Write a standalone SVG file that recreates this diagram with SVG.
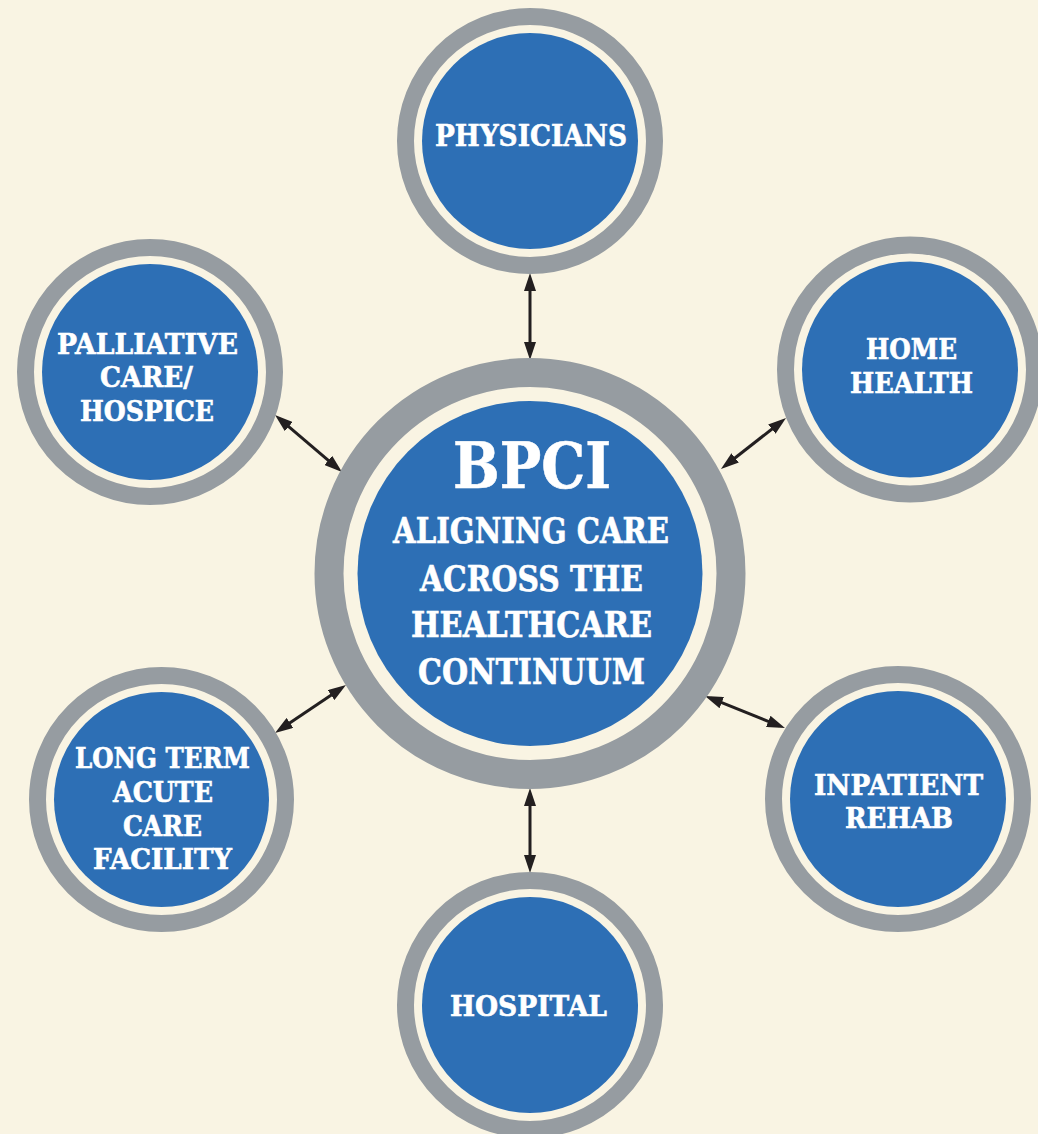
<svg xmlns="http://www.w3.org/2000/svg" width="1038" height="1134" viewBox="0 0 1038 1134">
  <style>
    .ring { fill: none; stroke: #969ca1; stroke-width: 17; }
    .ring-big { fill: none; stroke: #969ca1; stroke-width: 29; }
    .core { fill: #2d6fb5; }
    .label { font-family: "Roboto Slab", "DejaVu Serif", "Liberation Serif", serif; font-weight: bold; fill: #ffffff; stroke: #ffffff; stroke-width: 0.6; text-anchor: middle; }
    .sm { font-size: 28px; }
    .link { stroke: #231f20; stroke-width: 3; fill: none; marker-start: url(#tip); marker-end: url(#tip); }
  </style>
  <defs>
    <marker id="tip" viewBox="0 0 18 12" markerWidth="18" markerHeight="12" refX="12" refY="6" orient="auto-start-reverse" markerUnits="userSpaceOnUse">
      <path d="M0,0 L18,6 L0,12 Z" fill="#231f20"/>
    </marker>
  </defs>

  <rect width="1038" height="1134" fill="#f9f4e3"/>

  <!-- connectors between the hub and each partner -->
  <g id="connectors">
    <line class="link" x1="530" y1="279" x2="530" y2="354"/>
    <line class="link" x1="530" y1="794" x2="530" y2="867"/>
    <line class="link" x1="279.6" y1="418.9" x2="337.4" y2="468.1"/>
    <line class="link" x1="781.3" y1="421.7" x2="725.7" y2="465.3"/>
    <line class="link" x1="341" y1="688.4" x2="280" y2="729.6"/>
    <line class="link" x1="710.6" y1="698.2" x2="779.4" y2="725.8"/>
  </g>

  <!-- hub -->
  <g id="bpci">
    <circle class="ring-big" cx="530" cy="573.5" r="201"/>
    <circle class="core" cx="530" cy="573.5" r="172.5"/>
    <text class="label" x="532" y="488" font-size="63" stroke-width="1.2" textLength="158" lengthAdjust="spacingAndGlyphs">BPCI</text>
    <text class="label" x="531" y="543" font-size="35" textLength="276" lengthAdjust="spacingAndGlyphs">ALIGNING CARE</text>
    <text class="label" x="531.5" y="591" font-size="35" textLength="223" lengthAdjust="spacingAndGlyphs">ACROSS THE</text>
    <text class="label" x="531.5" y="637" font-size="35" textLength="241" lengthAdjust="spacingAndGlyphs">HEALTHCARE</text>
    <text class="label" x="531.5" y="684" font-size="35" textLength="227" lengthAdjust="spacingAndGlyphs">CONTINUUM</text>
  </g>

  <g id="physicians">
    <circle class="ring" cx="530" cy="141" r="124.5"/>
    <circle class="core" cx="530" cy="141" r="108"/>
    <text class="label" x="531" y="146" font-size="30" textLength="192" lengthAdjust="spacingAndGlyphs">PHYSICIANS</text>
  </g>

  <g id="palliative-care-hospice">
    <circle class="ring" cx="150" cy="372" r="124.5"/>
    <circle class="core" cx="150" cy="372" r="108"/>
    <text class="label sm" x="147.5" y="354" textLength="181" lengthAdjust="spacingAndGlyphs">PALLIATIVE</text>
    <text class="label sm" x="146.5" y="387" textLength="93" lengthAdjust="spacingAndGlyphs">CARE/</text>
    <text class="label sm" x="147" y="421" textLength="134" lengthAdjust="spacingAndGlyphs">HOSPICE</text>
  </g>

  <g id="home-health">
    <circle class="ring" cx="910" cy="369.5" r="124.5"/>
    <circle class="core" cx="910" cy="369.5" r="108"/>
    <text class="label sm" x="911.5" y="359" textLength="91" lengthAdjust="spacingAndGlyphs">HOME</text>
    <text class="label sm" x="911.5" y="393" textLength="123" lengthAdjust="spacingAndGlyphs">HEALTH</text>
  </g>

  <g id="long-term-acute-care">
    <circle class="ring" cx="161.5" cy="799.5" r="124"/>
    <circle class="core" cx="161.5" cy="799.5" r="107.5"/>
    <text class="label sm" x="162.5" y="768" textLength="175" lengthAdjust="spacingAndGlyphs">LONG TERM</text>
    <text class="label sm" x="163" y="802" textLength="100" lengthAdjust="spacingAndGlyphs">ACUTE</text>
    <text class="label sm" x="162.5" y="836" textLength="79" lengthAdjust="spacingAndGlyphs">CARE</text>
    <text class="label sm" x="162.5" y="869" textLength="139" lengthAdjust="spacingAndGlyphs">FACILITY</text>
  </g>

  <g id="inpatient-rehab">
    <circle class="ring" cx="898" cy="799" r="124.5"/>
    <circle class="core" cx="898" cy="799" r="108"/>
    <text class="label sm" x="898.5" y="795" textLength="169" lengthAdjust="spacingAndGlyphs">INPATIENT</text>
    <text class="label sm" x="899" y="828" textLength="108" lengthAdjust="spacingAndGlyphs">REHAB</text>
  </g>

  <g id="hospital">
    <circle class="ring" cx="530" cy="1005" r="124.5"/>
    <circle class="core" cx="530" cy="1005" r="108"/>
    <text class="label sm" x="528.5" y="1016" textLength="157" lengthAdjust="spacingAndGlyphs">HOSPITAL</text>
  </g>
</svg>
